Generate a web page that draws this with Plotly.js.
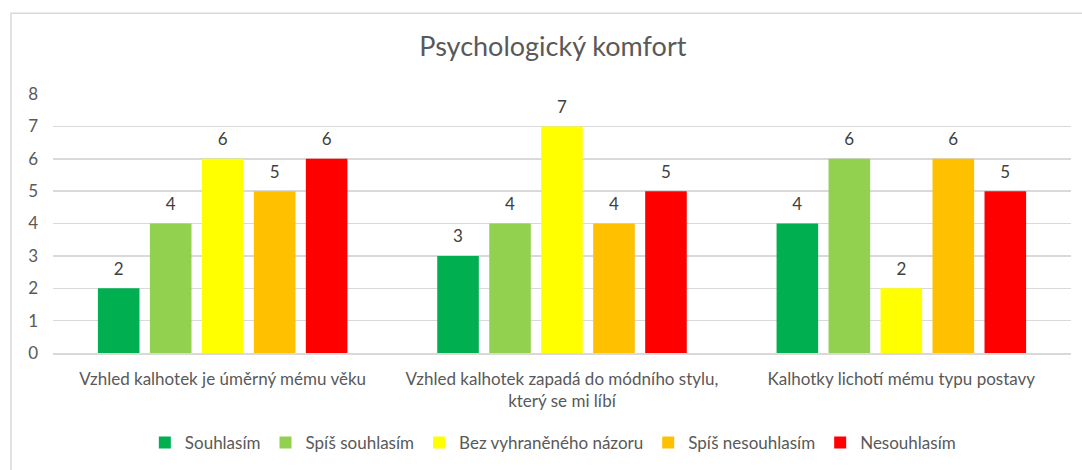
<!DOCTYPE html>
<html>
<head>
<meta charset="utf-8">
<script src="https://cdn.plot.ly/plotly-3.0.1.min.js"></script>
<style>
html, body { margin: 0; padding: 0; background: #fff; }
#chart { width: 1082px; height: 470px; }
</style>
</head>
<body>
<div id="chart"></div>
<script>
const categories = [
  "Vzhled kalhotek je úměrný mému věku",
  "Vzhled kalhotek zapadá do módního stylu,<br>který se mi líbí",
  "Kalhotky lichotí mému typu postavy"
];
const seriesNames = ["Souhlasím", "Spíš souhlasím", "Bez vyhraněného názoru", "Spíš nesouhlasím", "Nesouhlasím"];
const souhlasim = [2, 3, 4];
const spisSouhlasim = [4, 4, 6];
const bezNazoru = [6, 7, 2];
const spisNesouhlasim = [5, 4, 6];
const nesouhlasim = [6, 5, 5];
const yTicks = [0, 1, 2, 3, 4, 5, 6, 7, 8];

const seriesValues = [souhlasim, spisSouhlasim, bezNazoru, spisNesouhlasim, nesouhlasim];
const colors = ["#00B050", "#92D050", "#FFFF00", "#FFC000", "#FF0000"];
const FONT = "Lato, 'Open Sans', sans-serif";
const LABEL_LIFT = 0.2; // extra space (in axis units) between bar top and its value label

const barTraces = seriesValues.map((vals, i) => ({
  type: "bar",
  name: seriesNames[i],
  x: categories,
  y: vals,
  offsetgroup: "g" + i,
  marker: { color: colors[i], line: { width: 0 } },
  hoverinfo: "skip"
}));

// transparent companion bars, lifted slightly, that only carry the value labels
const labelTraces = seriesValues.map((vals, i) => ({
  type: "bar",
  name: seriesNames[i] + " (popisek)",
  x: categories,
  y: vals,
  base: LABEL_LIFT,
  offsetgroup: "g" + i,
  showlegend: false,
  marker: { color: "rgba(0,0,0,0)", line: { width: 0 } },
  text: vals.map(String),
  textposition: "outside",
  cliponaxis: false,
  textfont: { family: FONT, size: 17, color: "#404040" },
  hoverinfo: "skip"
}));

const layout = {
  width: 1082,
  height: 470,
  margin: { l: 53, r: 11, t: 94, b: 116 },
  paper_bgcolor: "#ffffff",
  plot_bgcolor: "#ffffff",
  font: { family: FONT, color: "#595959", size: 17 },
  title: {
    text: "Psychologický komfort",
    font: { family: FONT, size: 27, color: "#595959" },
    x: 0.491, xref: "paper", xanchor: "center",
    y: 1 - 47 / 470, yref: "container", yanchor: "middle"
  },
  barmode: "group",
  bargap: 0.234,
  bargroupgap: 0.2,
  xaxis: {
    type: "category",
    showgrid: false,
    showline: true,
    linecolor: "#d9d9d9",
    linewidth: 1.5,
    ticks: "",
    ticklabelstandoff: 10,
    tickfont: { family: FONT, size: 17, color: "#595959" },
    fixedrange: true
  },
  yaxis: {
    range: [0, 8],
    tickvals: yTicks,
    ticktext: yTicks.map(String),
    showgrid: true,
    gridcolor: "#d9d9d9",
    gridwidth: 1.5,
    zeroline: false,
    showline: false,
    ticks: "",
    ticklabelstandoff: 14,
    tickfont: { family: FONT, size: 17, color: "#595959" },
    fixedrange: true
  },
  showlegend: true,
  legend: {
    orientation: "h",
    x: 0.491, xanchor: "center",
    y: -0.342, yanchor: "middle",
    font: { family: FONT, size: 17, color: "#595959" },
    itemwidth: 30,
    traceorder: "normal"
  },
  shapes: [{
    type: "rect", xref: "paper", yref: "paper",
    x0: -0.0413, x1: 1.05, y0: -0.6, y1: 1.3115,
    line: { color: "#d9d9d9", width: 1.5 },
    fillcolor: "rgba(0,0,0,0)",
    layer: "below"
  }]
};

Plotly.newPlot("chart", barTraces.concat(labelTraces), layout, { displayModeBar: false, staticPlot: true });
</script>
</body>
</html>
